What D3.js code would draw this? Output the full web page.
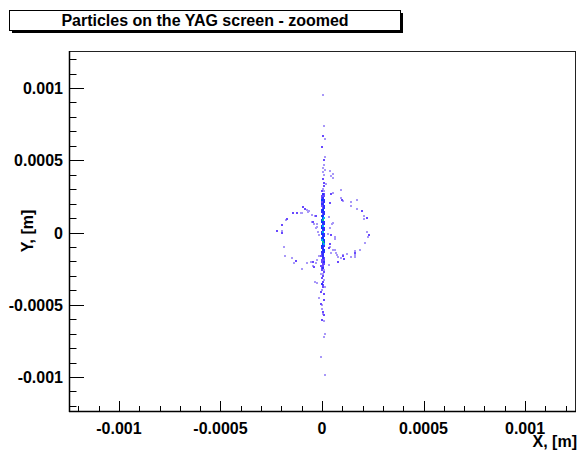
<!DOCTYPE html>
<html>
<head>
<meta charset="utf-8">
<script src="https://cdn.jsdelivr.net/npm/d3@7"></script>
<style>
	body{margin:0;background:#fff;}
	svg{display:block;font-family:"Liberation Sans",Arial,Helvetica,sans-serif;font-weight:bold;}
</style>
</head>
<body>
<div id="chart"></div>
<script>
// particle positions: [x µm, y µm, bin content]
const upperTail = [
	[5,949,1],[10,735,1],[5,666,2],[15,645,1],[0,590,2],[15,521,1],[10,500,2],[10,466,1],
	[5,445,1],[15,431,1],[39,424,1],[5,417,1],[54,404,1],[10,397,1],[44,390,1],[54,376,1],
	[5,369,2],[10,341,2],[20,335,1]
];
const core = [
	[10,321,2],[5,300,1],[0,286,2],[10,286,1],[5,266,3],[10,266,2],[0,252,2],[10,252,2],
	[5,238,3],[0,238,2],[0,224,4],[10,224,3],[10,210,3],[0,210,2],[5,197,3],[0,197,3],
	[0,183,2],[10,183,3],[10,169,3],[5,169,2],[5,155,4],[0,155,3],[0,141,3],[10,141,3],
	[10,128,3],[5,128,2],[5,114,4],[0,114,3],[10,100,5],[5,100,4],[5,86,6],[0,86,4],
	[0,72,4],[10,72,3],[10,59,3],[5,59,3],[5,45,5],[0,45,3],[0,31,4],[10,31,3],
	[10,17,3],[5,17,3],[5,3,5],[0,3,3],[0,-10,4],[10,-10,3],[10,-24,3],[5,-24,3],
	[5,-38,4],[0,-38,3],[0,-52,5],[10,-52,4],[5,-66,6],[10,-66,4],[10,-79,5],[5,-79,4],
	[0,-93,4],[10,-93,3],[5,-107,3],[0,-107,3],[10,-121,4],[5,-121,3],[0,-135,3],[10,-135,3],
	[5,-148,3],[0,-148,2],[-5,-162,2],[5,-162,3],[5,-176,3],[10,-176,2],[0,-190,2],[10,-190,2],
	[10,-204,3],[0,-204,2],[5,-217,2],[10,-217,2],[-5,-231,2],[5,-231,2],[5,-245,3],[0,-245,2],
	[0,-259,2],[10,-259,1],[10,-273,2],[-5,-286,1],[5,-286,1],[5,-300,2],[0,-314,2],[10,-328,1],
	[5,-342,2]
];
const lowerTail = [
	[0,-355,3],[5,-362,2],[5,-376,2],[15,-376,1],[0,-397,1],[-5,-411,2],[10,-424,2],[-15,-452,1],
	[10,-466,2],[-5,-493,2],[0,-500,1],[0,-528,1],[5,-549,2],[5,-562,1],[10,-569,2],[0,-604,2],
	[10,-611,1],[15,-701,1],[10,-721,1],[-5,-859,1],[15,-983,1]
];
const leftLoop = [
	[-94,176,2],[-84,162,2],[-74,155,1],[-69,141,1],[-99,135,1],[-123,135,2],[-143,135,2],[-173,93,2],
	[-177,86,1],[-49,121,1],[-35,114,1],[-49,72,1],[-39,59,1],[-25,38,1],[-197,52,2],[-222,10,2],
	[-197,10,1],[-197,-3,2],[-20,3,1],[-15,-17,1],[-187,-100,1],[-15,-162,1],[-182,-162,1],[-148,-176,1],
	[-128,-197,2],[-138,-210,1],[-74,-210,1],[-44,-204,2],[-30,-210,1],[-39,-238,2],[-99,-252,1],
	[-64,148,1],[-104,135,1],[-30,114,2],[-44,72,2],[-25,59,1],[-30,31,1],[-54,-204,1],[-25,-190,1],
	[-44,-231,1],[-35,-342,1],[-25,-348,1]
];
const rightLoop = [
	[94,293,1],[44,266,2],[39,204,2],[94,238,1],[104,217,1],[143,210,1],[173,224,1],[143,183,1],
	[173,162,1],[197,148,2],[207,114,1],[222,100,2],[207,93,1],[54,66,1],[222,3,1],[232,-17,2],
	[227,-31,1],[44,-17,2],[64,-31,1],[64,-45,1],[212,-72,1],[39,-79,2],[35,-107,2],[64,-121,1],
	[187,-121,1],[163,-128,1],[44,-141,1],[74,-155,1],[104,-162,2],[123,-148,1],[163,-141,2],[163,-155,1],
	[143,-169,1],[94,-176,1],[108,-183,2],[163,-169,1],[79,-204,2],[35,-224,1],
	[54,272,1],[99,224,2],[35,107,1],[49,59,1],[39,31,1],[30,-10,1],[39,-100,1],[54,-121,1],
	[69,-141,1],[79,-169,1],[104,-155,1]
];
const colorLevels = [1,2,3,4,5,6];
const colorValues = ['#a898f8','#6848ff','#3030ff','#0a3cff','#00b0f0','#00c090'];

const xTicks = [-0.001,-0.0005,0,0.0005,0.001];
const xTickLabels = ['-0.001','-0.0005','0','0.0005','0.001'];
const yTicks = [-0.001,-0.0005,0,0.0005,0.001];
const yTickLabels = ['-0.001','-0.0005','0','0.0005','0.001'];
const title = 'Particles on the YAG screen - zoomed';
const xTitle = 'X, [m]';
const yTitle = 'Y, [m]';

function render(container){
	const width = 579, height = 454,
		frame = {left: 69, right: 575, top: 51, bottom: 411};

	const svg = d3.select(container).append('svg')
		.attr('width', width)
		.attr('height', height);

	const x = d3.scaleLinear().domain([-0.001246, 0.001246]).range([frame.left, frame.right]),
		y = d3.scaleLinear().domain([-0.001235, 0.001256]).range([frame.bottom, frame.top]),
		color = d3.scaleOrdinal().domain(colorLevels).range(colorValues);

	// title box with shadow
	svg.append('rect').attr('x', 12).attr('y', 13).attr('width', 391).attr('height', 20).attr('fill', '#000');
	svg.append('rect').attr('x', 9.5).attr('y', 10.5).attr('width', 391).attr('height', 20)
		.attr('fill', '#fff').attr('stroke', '#000').attr('stroke-width', 1);
	svg.append('text').attr('x', 205).attr('y', 26).attr('text-anchor', 'middle')
		.attr('font-size', 16).text(title);

	// points
	const points = [...upperTail, ...core, ...lowerTail, ...leftLoop, ...rightLoop]
		.map(d=>({x: d[0]*1e-6, y: d[1]*1e-6, c: d[2]}))
		.sort((a, b)=>a.c - b.c);
	svg.append('g').attr('class', 'points')
		.selectAll('rect')
		.data(points)
		.join('rect')
			.attr('x', d=>Math.round(x(d.x)) - 1)
			.attr('y', d=>Math.round(y(d.y)) - 1)
			.attr('width', 2)
			.attr('height', 2)
			.attr('fill', d=>color(d.c));

	// frame
	svg.append('rect')
		.attr('x', frame.left + 0.5).attr('y', frame.top + 0.5)
		.attr('width', frame.right - frame.left).attr('height', frame.bottom - frame.top)
		.attr('fill', 'none').attr('stroke', '#222').attr('stroke-width', 1);

	// ticks every 0.0001, major every 0.0005
	const minor = d3.range(-12, 13).map(k=>k*1e-4);
	const isMajor = v=>Math.abs(Math.round(v*1e4)) % 5 === 0;
	const gt = svg.append('g').attr('stroke', '#000').attr('stroke-width', 1);
	gt.selectAll('line.xt')
		.data(minor.filter(v=>x(v) > frame.left + 1 && x(v) < frame.right - 1))
		.join('line')
			.attr('class', 'xt')
			.attr('x1', d=>Math.round(x(d)) + 0.5).attr('x2', d=>Math.round(x(d)) + 0.5)
			.attr('y1', frame.bottom)
			.attr('y2', d=>frame.bottom - (isMajor(d) ? 10 : 5));
	gt.selectAll('line.yt')
		.data(minor.filter(v=>y(v) < frame.bottom - 1 && y(v) > frame.top + 1))
		.join('line')
			.attr('class', 'yt')
			.attr('y1', d=>Math.round(y(d)) + 0.5).attr('y2', d=>Math.round(y(d)) + 0.5)
			.attr('x1', frame.left)
			.attr('x2', d=>frame.left + (isMajor(d) ? 15 : 7.5));

	// axis lines
	svg.append('line').attr('x1', frame.left + 0.5).attr('x2', frame.left + 0.5)
		.attr('y1', frame.top).attr('y2', frame.bottom + 1).attr('stroke', '#000').attr('stroke-width', 1.5);
	svg.append('line').attr('x1', frame.left).attr('x2', frame.right + 1)
		.attr('y1', frame.bottom + 0.5).attr('y2', frame.bottom + 0.5).attr('stroke', '#000').attr('stroke-width', 1.5);

	// labels
	svg.append('g').selectAll('text')
		.data(xTicks)
		.join('text')
			.attr('x', d=>x(d))
			.attr('y', 434)
			.attr('text-anchor', 'middle')
			.attr('font-size', 16)
			.text((d, i)=>xTickLabels[i]);
	svg.append('g').selectAll('text')
		.data(yTicks)
		.join('text')
			.attr('x', 63)
			.attr('y', d=>y(d) + 6)
			.attr('text-anchor', 'end')
			.attr('font-size', 16)
			.text((d, i)=>yTickLabels[i]);

	svg.append('text').attr('x', 577).attr('y', 447).attr('text-anchor', 'end')
		.attr('font-size', 16).text(xTitle);
	svg.append('text').attr('transform', `translate(33, ${(frame.top + frame.bottom)/2}) rotate(-90)`)
		.attr('text-anchor', 'middle').attr('font-size', 16).text(yTitle);
}

render(document.getElementById('chart'));
</script>
</body>
</html>
